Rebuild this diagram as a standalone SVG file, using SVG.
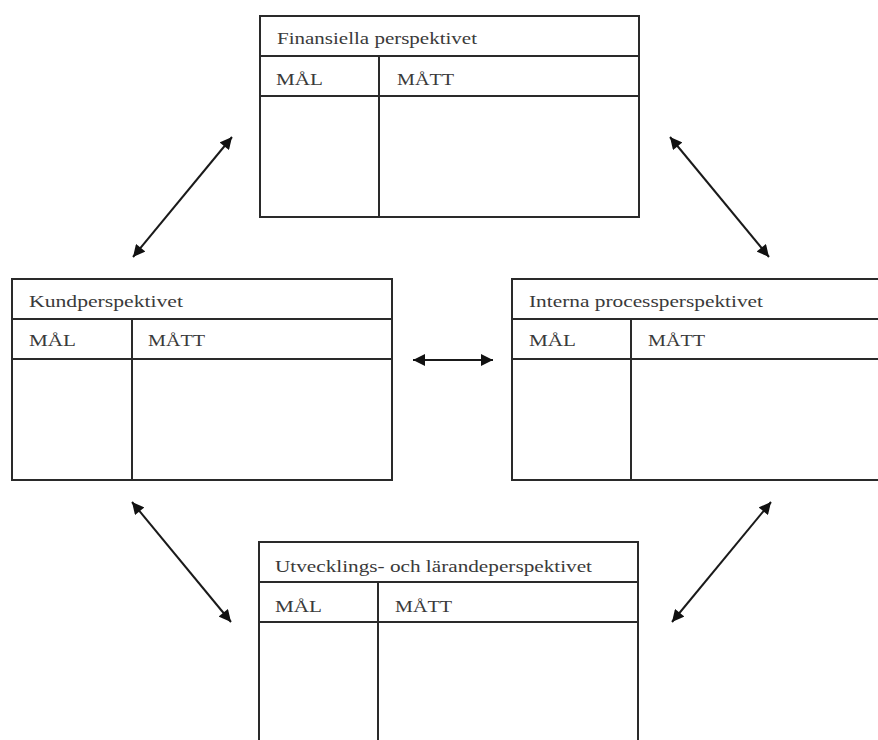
<svg xmlns="http://www.w3.org/2000/svg" width="878" height="740" viewBox="0 0 878 740">
<defs>
<marker id="ah" viewBox="0 0 10 10" refX="10" refY="5" markerWidth="6.5" markerHeight="6" orient="auto-start-reverse">
<path d="M0,0 L10,5 L0,10 z" fill="#111"/>
</marker>
</defs>
<style>
.box{fill:#fff;stroke:#2a2a2a;stroke-width:2}
.ln{stroke:#2a2a2a;stroke-width:2;fill:none}
.t{font-family:"Liberation Serif","Times New Roman",serif;font-size:17px;fill:#3a3a3a}
.c{stroke:#1a1a1a;stroke-width:2;fill:none;marker-start:url(#ah);marker-end:url(#ah)}
</style>
<rect width="878" height="740" fill="#fff"/>
<g id="finansiella">
<rect class="box" x="260" y="16" width="379" height="201"/>
<line class="ln" x1="260" y1="56" x2="639" y2="56"/>
<line class="ln" x1="260" y1="96" x2="639" y2="96"/>
<line class="ln" x1="379" y1="56" x2="379" y2="217"/>
<text class="t" x="277" y="44" textLength="200" lengthAdjust="spacingAndGlyphs">Finansiella perspektivet</text>
<text class="t" x="276" y="85" textLength="47" lengthAdjust="spacingAndGlyphs">MÅL</text>
<text class="t" x="397" y="85" textLength="57" lengthAdjust="spacingAndGlyphs">MÅTT</text>
</g>
<g id="kund">
<rect class="box" x="12" y="279" width="380" height="201"/>
<line class="ln" x1="12" y1="319" x2="392" y2="319"/>
<line class="ln" x1="12" y1="359" x2="392" y2="359"/>
<line class="ln" x1="132" y1="319" x2="132" y2="480"/>
<text class="t" x="29" y="307" textLength="154" lengthAdjust="spacingAndGlyphs">Kundperspektivet</text>
<text class="t" x="29" y="346" textLength="47" lengthAdjust="spacingAndGlyphs">MÅL</text>
<text class="t" x="148" y="346" textLength="57" lengthAdjust="spacingAndGlyphs">MÅTT</text>
</g>
<g id="interna">
<rect class="box" x="512" y="279" width="380" height="201"/>
<line class="ln" x1="512" y1="319" x2="892" y2="319"/>
<line class="ln" x1="512" y1="359" x2="892" y2="359"/>
<line class="ln" x1="631" y1="319" x2="631" y2="480"/>
<text class="t" x="529" y="307" textLength="234" lengthAdjust="spacingAndGlyphs">Interna processperspektivet</text>
<text class="t" x="529" y="346" textLength="47" lengthAdjust="spacingAndGlyphs">MÅL</text>
<text class="t" x="648" y="346" textLength="57" lengthAdjust="spacingAndGlyphs">MÅTT</text>
</g>
<g id="utveckling">
<rect class="box" x="259" y="542" width="379" height="220"/>
<line class="ln" x1="259" y1="582" x2="638" y2="582"/>
<line class="ln" x1="259" y1="622" x2="638" y2="622"/>
<line class="ln" x1="378" y1="582" x2="378" y2="762"/>
<text class="t" x="275" y="572" textLength="317" lengthAdjust="spacingAndGlyphs">Utvecklings- och lärandeperspektivet</text>
<text class="t" x="275" y="612" textLength="47" lengthAdjust="spacingAndGlyphs">MÅL</text>
<text class="t" x="395" y="612" textLength="57" lengthAdjust="spacingAndGlyphs">MÅTT</text>
</g>
<g id="connectors">
<line class="c" x1="133" y1="257" x2="232" y2="137"/>
<line class="c" x1="670" y1="137" x2="769" y2="257"/>
<line class="c" x1="413" y1="360" x2="493" y2="360"/>
<line class="c" x1="132" y1="502" x2="231" y2="622"/>
<line class="c" x1="771" y1="502" x2="672" y2="622"/>
</g>
</svg>
